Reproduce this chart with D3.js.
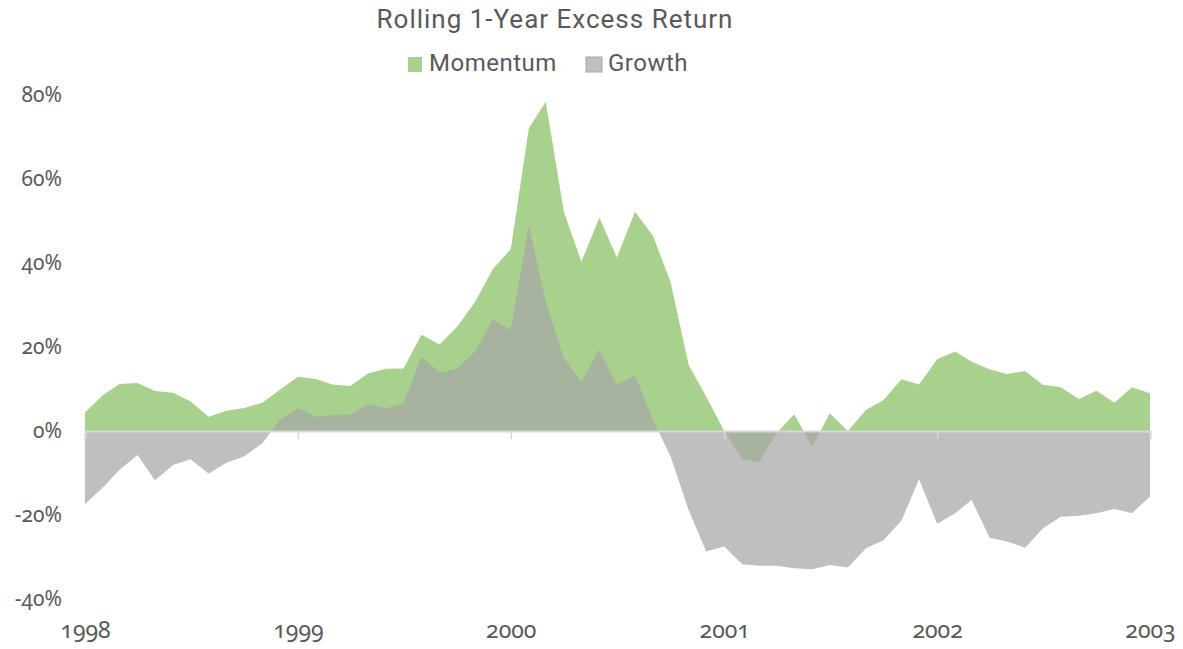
<!DOCTYPE html>
<html>
<head>
<meta charset="utf-8">
<script src="https://cdn.jsdelivr.net/npm/d3@7"></script>
<style>
  body { margin: 0; background: #fff; }
  .title, .legend text { font-family: Roboto, "Noto Sans", sans-serif; fill: #595959; }
  .num text { font-family: "Noto Sans", sans-serif; font-feature-settings: "onum" 1; fill: #595959; }
</style>
</head>
<body>
<svg></svg>
<script>
const W = 1183, H = 649

// monthly, Jan 1998 .. Jan 2003
const startMonth = new Date(1998, 0, 1)
const momentum = [4.4, 8.6, 11.2, 11.4, 9.5, 9.1, 7.0, 3.4, 4.8, 5.5, 6.7, 9.8,
    12.9, 12.4, 11.1, 10.7, 13.7, 14.8, 14.9, 22.9, 20.6, 24.8, 30.8, 38.5,
    43.3, 72.1, 78.4, 52.2, 40.3, 50.8, 41.3, 52.2, 46.4, 35.5, 15.7, 8.2,
    0.0, -6.7, -7.5, -0.5, 4.0, -3.7, 4.2, 0.0, 5.0, 7.4, 12.3, 11.1,
    17.1, 18.9, 16.5, 14.7, 13.6, 14.3, 11.0, 10.4, 7.6, 9.6, 6.7, 10.4,
    9.0]
const growth = [-17.4, -13.4, -9.3, -5.7, -11.7, -8.1, -6.7, -10.2, -7.5, -6.1, -2.9, 2.6,
    5.4, 3.4, 3.8, 3.9, 6.4, 5.4, 6.6, 17.7, 13.9, 14.9, 18.9, 26.6,
    24.2, 49.0, 30.8, 17.3, 11.7, 19.4, 11.0, 13.3, 2.6, -6.1, -18.8, -28.7,
    -27.5, -31.7, -32.1, -32.1, -32.7, -32.9, -31.9, -32.5, -27.9, -26.0, -21.3, -11.5,
    -22.1, -19.6, -16.4, -25.4, -26.3, -27.8, -23.2, -20.4, -20.2, -19.6, -18.6, -19.6,
    -15.6]
const seriesNames = ['Momentum', 'Growth']
const yTicks = [-40, -20, 0, 20, 40, 60, 80]
const yearTicks = [1998, 1999, 2000, 2001, 2002, 2003]

const dates = momentum.map((v, i) => d3.timeMonth.offset(startMonth, i))

const svg = d3.select('svg')
    .attr('width', W)
    .attr('height', H)

const x = d3.scaleTime()
    .domain([new Date(1998, 0, 1), new Date(2003, 0, 1)])
    .range([85, 1150])
const y = d3.scaleLinear()
    .domain([-40, 80])
    .range([599, 95])

const area = vals => d3.area()
    .x((d, i) => x(dates[i]))
    .y0(y(0))
    .y1(d => y(d))(vals)

svg.append('path')
    .attr('d', area(momentum))
    .attr('fill', '#a9d18e')

svg.append('path')
    .attr('d', area(growth))
    .attr('fill', 'rgb(166,166,166)')
    .attr('fill-opacity', 0.72)

// zero line with year ticks
const zeroAxis = svg.append('g')
    .attr('transform', `translate(0,${y(0)})`)
    .call(d3.axisBottom(x)
        .tickValues(yearTicks.map(yr => new Date(yr, 0, 1)))
        .tickSize(8)
        .tickFormat(''))
zeroAxis.select('.domain').attr('stroke', '#d9d9d9').attr('stroke-width', 2)
zeroAxis.selectAll('.tick line').attr('stroke', '#d9d9d9').attr('stroke-width', 1.5)

// year labels
svg.append('g')
    .attr('class', 'num')
    .attr('transform', 'translate(0,619)')
    .call(d3.axisBottom(x)
        .tickValues(yearTicks.map(yr => new Date(yr, 0, 1)))
        .tickSize(0)
        .tickFormat(d3.timeFormat('%Y')))
    .call(g => g.select('.domain').remove())
    .selectAll('text')
    .attr('font-size', 23)

// y labels
svg.append('g')
    .attr('class', 'num')
    .attr('transform', 'translate(65,0)')
    .call(d3.axisLeft(y)
        .tickValues(yTicks)
        .tickSize(0)
        .tickFormat(d => d + '%'))
    .call(g => g.select('.domain').remove())
    .selectAll('text')
    .attr('font-size', 21)

svg.append('text')
    .attr('class', 'title')
    .attr('x', 555)
    .attr('y', 28)
    .attr('text-anchor', 'middle')
    .attr('font-size', 26)
    .attr('letter-spacing', 1)
    .text('Rolling 1-Year Excess Return')

const legend = svg.append('g').attr('class', 'legend')
const legendItems = [
    { name: seriesNames[0], fill: '#a9d18e', stroke: 'none', x: 408, w: 14, tx: 429 },
    { name: seriesNames[1], fill: '#bfbfbf', stroke: '#a6a6a6', x: 586, w: 16, tx: 608 }
]
legendItems.forEach(it => {
    legend.append('rect')
        .attr('x', it.x)
        .attr('y', 57)
        .attr('width', it.w)
        .attr('height', 15)
        .attr('fill', it.fill)
        .attr('stroke', it.stroke)
    legend.append('text')
        .attr('x', it.tx)
        .attr('y', 71)
        .attr('font-size', 24)
        .attr('letter-spacing', 0.5)
        .text(it.name)
})
</script>
</body>
</html>
